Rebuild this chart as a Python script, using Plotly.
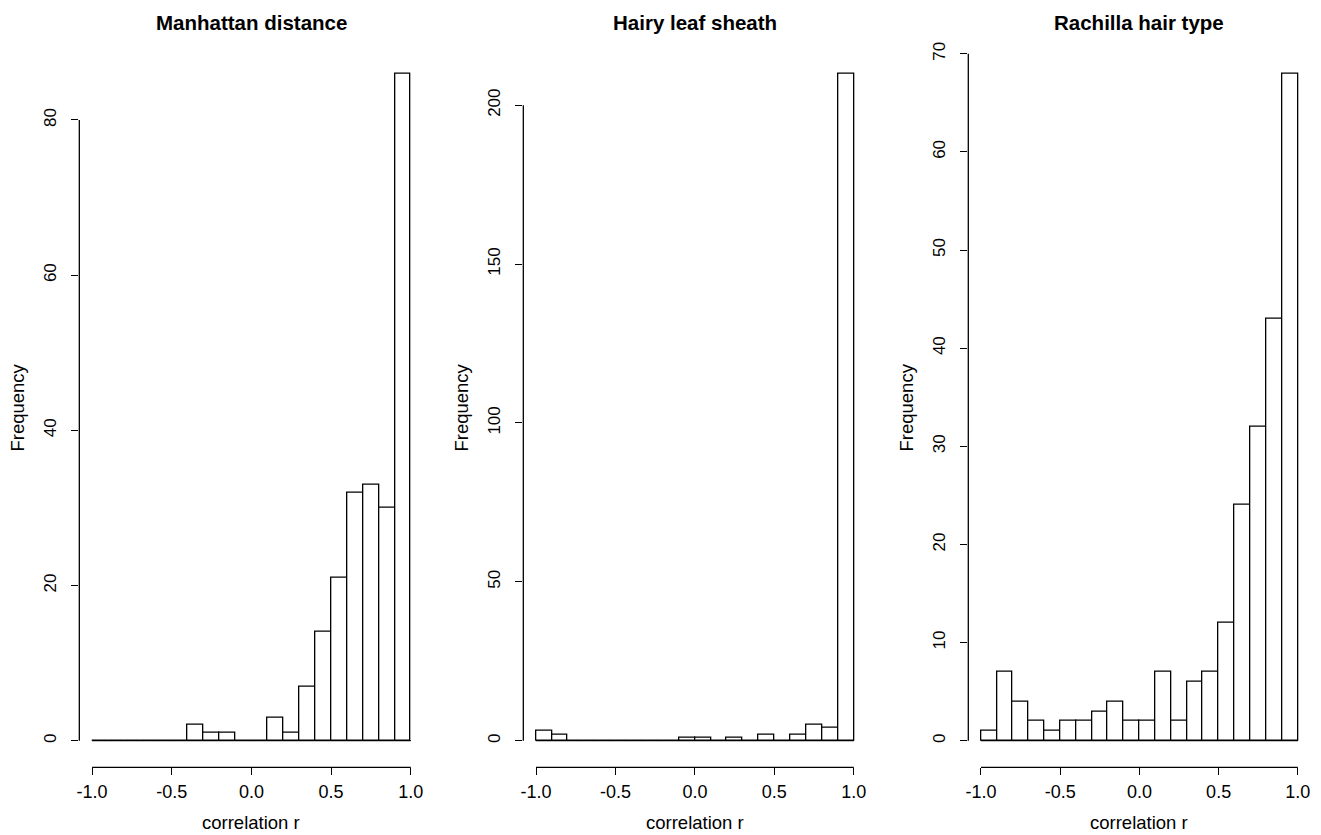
import plotly.graph_objects as go

# Histogram bins (correlation r), width 0.1 from -1.0 to 1.0
bin_left = [-1.0, -0.9, -0.8, -0.7, -0.6, -0.5, -0.4, -0.3, -0.2, -0.1,
            0.0, 0.1, 0.2, 0.3, 0.4, 0.5, 0.6, 0.7, 0.8, 0.9]
bin_width = 0.1

titles = ["Manhattan distance", "Hairy leaf sheath", "Rachilla hair type"]

manhattan = [0, 0, 0, 0, 0, 0, 2, 1, 1, 0, 0, 3, 1, 7, 14, 21, 32, 33, 30, 86]
hairy = [3, 2, 0, 0, 0, 0, 0, 0, 0, 1, 1, 0, 1, 0, 2, 0, 2, 5, 4, 210]
rachilla = [1, 7, 4, 2, 1, 2, 2, 3, 4, 2, 2, 7, 2, 6, 7, 12, 24, 32, 43, 68]

x_ticks = [-1.0, -0.5, 0.0, 0.5, 1.0]
x_ticklabels = ["-1.0", "-0.5", "0.0", "0.5", "1.0"]
y_ticks = [[0, 20, 40, 60, 80], [0, 50, 100, 150, 200], [0, 10, 20, 30, 40, 50, 60, 70]]

series = [manhattan, hairy, rachilla]

W, H = 1321, 835
x_domains_px = [(76.5, 421.5), (521.5, 865.5), (967.5, 1310.5)]
y_dom = [(H - 767) / H, (H - 42) / H]

FONT = "Liberation Sans, Arial, sans-serif"
fig = go.Figure()
shapes = []
annotations = []

for i, (counts, title) in enumerate(zip(series, titles)):
    xa = "x" if i == 0 else f"x{i+1}"
    ya = "y" if i == 0 else f"y{i+1}"
    centers = [b + bin_width / 2 for b in bin_left]
    fig.add_trace(go.Bar(
        x=centers, y=counts, width=[bin_width] * len(counts),
        marker=dict(color="white", line=dict(color="black", width=1.3)),
        xaxis=xa, yaxis=ya, showlegend=False, hoverinfo="x+y",
    ))
    # zero-height bars drawn as baseline (as R hist does)
    fig.add_trace(go.Scatter(
        x=[bin_left[0], bin_left[-1] + bin_width], y=[0, 0], mode="lines",
        line=dict(color="black", width=1.3), xaxis=xa, yaxis=ya,
        showlegend=False, hoverinfo="skip",
    ))
    ymax = max(counts)
    d0, d1 = x_domains_px[i]
    layout_x = dict(
        domain=[d0 / W, d1 / W], range=[-1.08, 1.08], anchor=ya,
        showgrid=False, zeroline=False, showline=False,
        tickmode="array", tickvals=x_ticks, ticktext=x_ticklabels,
        ticks="outside", ticklen=7, tickwidth=1.3, tickcolor="black",
        tickfont=dict(family=FONT, size=18, color="black"),
        ticklabelstandoff=1,
    )
    layout_y = dict(
        domain=y_dom, range=[-0.04 * ymax, 1.04 * ymax], anchor=xa,
        showgrid=False, zeroline=False, showline=False,
        tickmode="array", tickvals=y_ticks[i],
        ticktext=[str(v) for v in y_ticks[i]],
        ticks="outside", ticklen=7, tickwidth=1.3, tickcolor="black",
        tickangle=-90,
        tickfont=dict(family=FONT, size=17, color="black"),
        ticklabelstandoff=9,
    )
    fig.update_layout(**{("xaxis" if i == 0 else f"xaxis{i+1}"): layout_x,
                         ("yaxis" if i == 0 else f"yaxis{i+1}"): layout_y})
    # R-style axis lines spanning only the tick range
    shapes.append(dict(type="line", xref=xa, yref=f"{ya} domain",
                       x0=x_ticks[0], x1=x_ticks[-1], y0=0, y1=0,
                       line=dict(color="black", width=1.3)))
    shapes.append(dict(type="line", xref=f"{xa} domain", yref=ya,
                       x0=0, x1=0, y0=y_ticks[i][0], y1=y_ticks[i][-1],
                       line=dict(color="black", width=1.3)))
    cx = (d0 + d1) / 2 / W
    annotations.append(dict(text=f"<b>{title}</b>", x=cx, y=(H - 18) / H,
                            xref="paper", yref="paper", showarrow=False,
                            xanchor="center", yanchor="middle",
                            font=dict(family=FONT, size=20.5, color="black")))
    annotations.append(dict(text="correlation r", x=cx, y=(H - 822) / H,
                            xref="paper", yref="paper", showarrow=False,
                            xanchor="center", yanchor="middle",
                            font=dict(family=FONT, size=18.5, color="black")))
    annotations.append(dict(text="Frequency", x=(d0 - 62) / W,
                            y=(y_dom[0] + y_dom[1]) / 2,
                            xref="paper", yref="paper", showarrow=False,
                            textangle=-90, xanchor="center", yanchor="middle",
                            font=dict(family=FONT, size=18.5, color="black")))

fig.update_layout(
    width=W, height=H, margin=dict(l=0, r=0, t=0, b=0),
    paper_bgcolor="white", plot_bgcolor="white",
    bargap=0, shapes=shapes, annotations=annotations,
)

fig.write_html("out.html",
               config={"displayModeBar": False},
               post_script="document.body.style.margin='0';"
                           "document.body.style.overflow='hidden';")
